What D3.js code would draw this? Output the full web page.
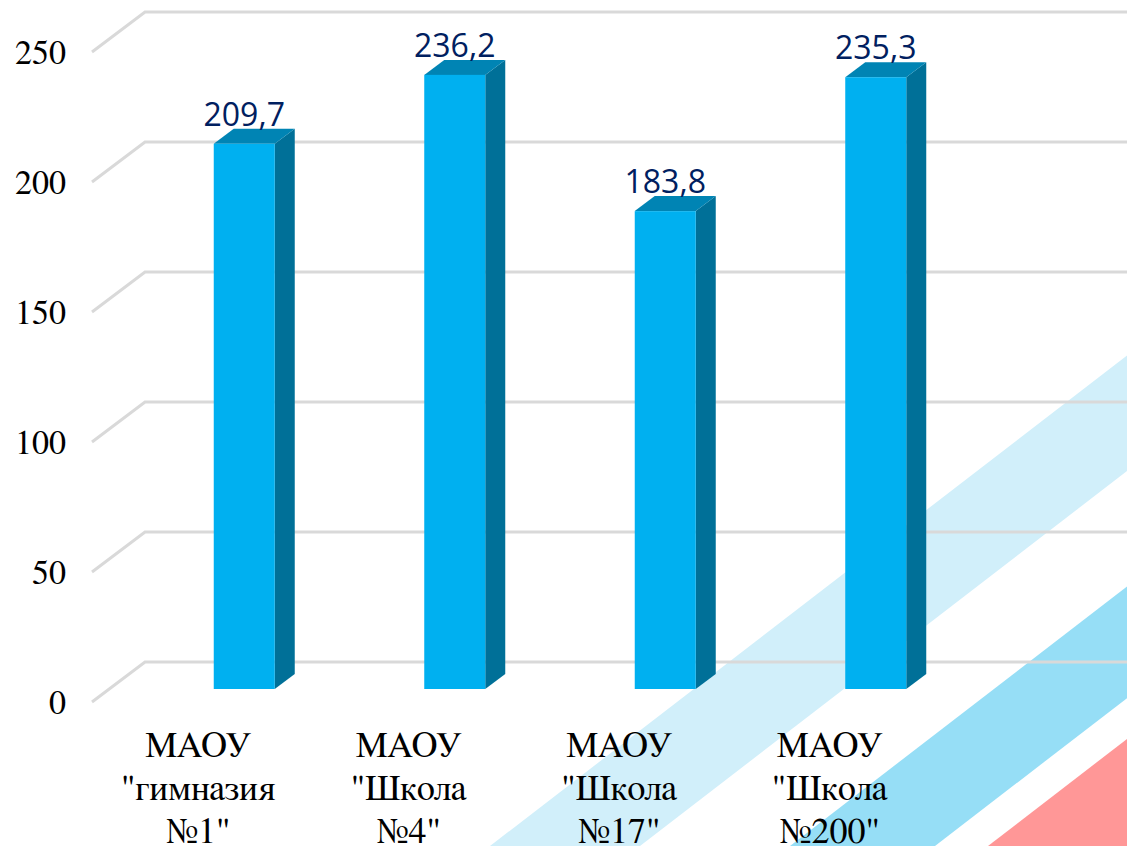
<!DOCTYPE html>
<html><head><meta charset="utf-8">
<script src="https://cdn.jsdelivr.net/npm/d3@7"></script>
<style>html,body{margin:0;padding:0;background:#fff;overflow:hidden}</style>
</head><body>
<svg id="c" width="1127" height="846"></svg>
<script>
const categories = [
  ["МАОУ", "\"гимназия", "№1\""],
  ["МАОУ", "\"Школа", "№4\""],
  ["МАОУ", "\"Школа", "№17\""],
  ["МАОУ", "\"Школа", "№200\""]
];
const values = [209.7, 236.2, 183.8, 235.3];
const valueLabels = ["209,7", "236,2", "183,8", "235,3"];
const yTicks = [0, 50, 100, 150, 200, 250];

const SERIF = '"FreeSerif"';
const SANS = '"Open Sans"';
const W = 1127, H = 846;
const svg = d3.select("#c");

// decorative background stripes
const slope = 0.77;
function band(xBottomA, xBottomB) {
  const yAtRight = xb => H - slope * (W - xb);
  return [[xBottomA, H], [W, yAtRight(xBottomA)], [W, yAtRight(xBottomB)], [xBottomB, H]];
}
const stripes = svg.append("g");
stripes.append("polygon").attr("points", band(490, 640).join(" ")).attr("fill", "#D1EFFA");
stripes.append("polygon").attr("points", band(790, 935).join(" ")).attr("fill", "#96DEF6");
stripes.append("polygon").attr("points", [[988, H], [W, H - slope * (W - 988)], [W, H]].join(" ")).attr("fill", "#FF9797");

// scales
const yFront = d3.scaleLinear().domain([0, 250]).range([702, 52]);
const yBack = d3.scaleLinear().domain([0, 250]).range([662, 12]);
const yBar = d3.scaleLinear().domain([0, 250]).range([689, 39]);
const x = d3.scaleBand().domain(d3.range(categories.length)).range([93, 935]).padding(0);

const frontX = 92, backX = 145, depthX = 20, depthY = 15, barW = 61, barShift = 46;

// gridlines
const grid = svg.append("g");
yTicks.forEach(t => {
  grid.append("path")
    .attr("d", `M${frontX},${yFront(t)}L${backX},${yBack(t)}L${W},${yBack(t)}`)
    .attr("fill", "none").attr("stroke", "#D9D9D9").attr("stroke-width", 3);
});

// y tick labels
svg.append("g").selectAll("text").data(yTicks).join("text")
  .attr("x", 66).attr("y", d => yFront(d) + 12)
  .attr("text-anchor", "end")
  .style("font-family", SERIF)
  .style("font-size", "34px").attr("fill", "#000")
  .text(d => d);

// bars
const bars = svg.append("g");
values.forEach((v, i) => {
  const x0 = x(i) + x.bandwidth() / 2 + barShift - barW / 2;
  const x1 = x0 + barW;
  const yt = yBar(v), yb = yBar(0);
  bars.append("polygon")
    .attr("points", [[x1, yt], [x1 + depthX, yt - depthY], [x1 + depthX, yb - depthY], [x1, yb]].join(" "))
    .attr("fill", "#007098");
  bars.append("polygon")
    .attr("points", [[x0, yt], [x0 + depthX, yt - depthY], [x1 + depthX, yt - depthY], [x1, yt]].join(" "))
    .attr("fill", "#0084B4");
  bars.append("rect").attr("x", x0).attr("y", yt).attr("width", barW).attr("height", yb - yt)
    .attr("fill", "#00B0F0");
  svg.append("text")
    .attr("x", x0 + barW / 2).attr("y", yt - depthY - 3)
    .attr("text-anchor", "middle")
    .style("font-family", SANS)
    .style("font-size", "32px").attr("fill", "#002060")
    .text(valueLabels[i]);
});

// category labels
const cat = svg.append("g");
categories.forEach((lines, i) => {
  const t = cat.append("text")
    .attr("text-anchor", "middle")
    .style("font-family", SERIF)
    .style("font-size", "36px").attr("fill", "#000");
  lines.forEach((ln, j) => {
    t.append("tspan").attr("x", x(i) + x.bandwidth() / 2).attr("y", 757 + j * 43).text(ln);
  });
});
</script>
</body></html>
